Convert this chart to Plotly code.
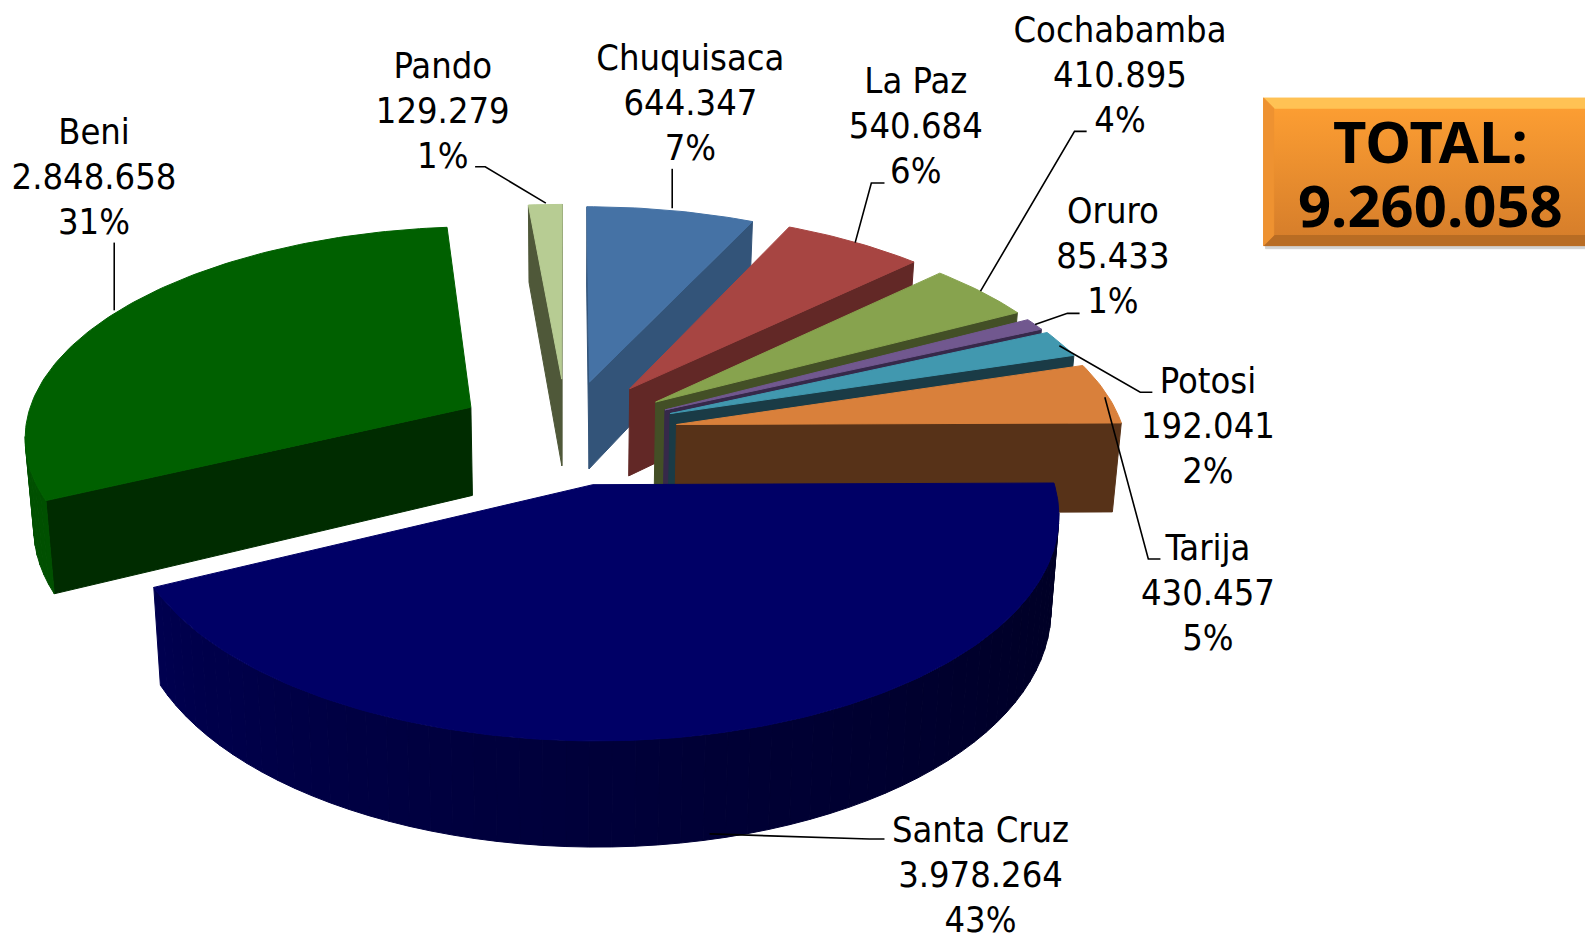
import math
import plotly.graph_objects as go

# ---------- data ----------
departments = ["Chuquisaca", "La Paz", "Cochabamba", "Oruro", "Potosi", "Tarija", "Santa Cruz", "Beni", "Pando"]
population = [644347, 540684, 410895, 85433, 192041, 430457, 3978264, 2848658, 129279]
total_text = ["TOTAL:", "9.260.058"]

# ---------- style ----------
top_colors = ["#4572A5", "#A74542", "#87A34E", "#71588F", "#4198AF", "#D9803B", "#000066", "#006000", "#B7CC93"]
cut_colors = ["#335479", "#622826", "#434F26", "#36294A", "#1A3B46", "#573218", "#00003A", "#002C00", "#4F5839"]
wall_colors = ["#335479", "#622826", "#434F26", "#36294A", "#1A3B46", "#6E4020", "#000050", "#005000", "#4F5839"]
wall_far_colors = [None, None, None, None, None, None, "#000024", None, None]

# explosion of each slice in pie-radius units (x, depth)
explode = [(.054, -.48), (.146, -.446), (.204, -.38), (.224, -.341), (.235, -.323),
           (.248, -.27), (.058, .01), (-.216, -.354), (-.010, -.495)]
paint_order = [8, 7, 0, 1, 2, 3, 4, 5, 6]

label_centres = [(683, 105), (906, 128), (1108, 77), (1101, 256), (1195, 424),
                 (1195, 590), (970, 869), (93, 178), (438, 113)]
leaders = [
    [(665, 167), (665, 206)],
    [(875, 181), (862, 181), (846, 240)],
    [(1075, 130), (1063, 130), (970, 288)],
    [(1068, 310), (1056, 310), (1024, 321)],
    [(1140, 388), (1128, 388), (1048, 342)],
    [(1148, 553), (1136, 553), (1093, 393)],
    [(875, 830), (860, 830), (702, 825)],
    [(113, 240), (113, 307)],
    [(470, 165), (480, 165), (540, 201)],
]

# camera
CX, HORIZON, HEIGHT, FOCAL, DIST, THICK, TILT = 560.0, -1210.0, 3.7, 3500.0, 7.675, 0.2, 0.984


def project(x, v, bottom=False):
    p = FOCAL / (DIST - v)
    if bottom:
        return CX + x * p * TILT, HORIZON + (HEIGHT + THICK) * p
    return CX + x * p, HORIZON + HEIGHT * p


def mix(c1, c2, t):
    a = [int(c1[i:i + 2], 16) for i in (1, 3, 5)]
    b = [int(c2[i:i + 2], 16) for i in (1, 3, 5)]
    return "#%02x%02x%02x" % tuple(round(a[i] + (b[i] - a[i]) * t) for i in range(3))


fig = go.Figure()


def poly(points, color, line=True):
    xs = [q[0] for q in points] + [points[0][0]]
    ys = [q[1] for q in points] + [points[0][1]]
    fig.add_trace(go.Scatter(x=xs, y=ys, mode="lines", fill="toself", fillcolor=color,
                             line=dict(color=color, width=1 if line else 0),
                             hoverinfo="skip", showlegend=False))


total = sum(population)
angles = [0.0]
for value in population:
    angles.append(angles[-1] + 360.0 * value / total)


def rim(i, a):
    r = math.radians(a)
    return explode[i][0] + math.sin(r), explode[i][1] - math.cos(r)


def faces_camera(nx, nv, px, pv):
    return nx * (0 - px) + nv * (DIST - pv) > 0


for i in paint_order:
    a0, a1 = angles[i], angles[i + 1]
    ax, av = explode[i]
    # cut faces
    for a, sign in ((a0, -1), (a1, 1)):
        r = math.radians(a)
        nx, nv = math.cos(r) * sign, math.sin(r) * sign
        ex, ev = rim(i, a)
        if faces_camera(nx, nv, ax, av):
            poly([project(ax, av), project(ex, ev), project(ex, ev, True), project(ax, av, True)], cut_colors[i])
    # outer wall
    n = max(2, int((a1 - a0) / 2.5))
    for k in range(n):
        b0 = a0 + (a1 - a0) * k / n
        b1 = a0 + (a1 - a0) * (k + 1) / n
        mid = math.radians((b0 + b1) / 2)
        px, pv = rim(i, (b0 + b1) / 2)
        if not faces_camera(math.sin(mid), -math.cos(mid), px, pv):
            continue
        col = wall_colors[i]
        if wall_far_colors[i]:
            col = mix(wall_far_colors[i], wall_colors[i], max(0, min(1, k / n)) ** 1.3)
        p0, p1 = rim(i, b0), rim(i, b1)
        poly([project(*p0), project(*p1), project(*p1, True), project(*p0, True)], col)
    # top
    steps = max(4, int(a1 - a0))
    outline = [project(ax, av)] + [project(*rim(i, a0 + (a1 - a0) * k / steps)) for k in range(steps + 1)]
    poly(outline, top_colors[i])

# total box (clipped by the right edge of the page)
BX0, BX1, BY0, BY1, BEV = 1250, 1580, 97, 243, 10
poly([(BX0 + 2, BY0 + 4), (BX1, BY0 + 4), (BX1, BY1 + 3), (BX0 + 2, BY1 + 3)], "#D2D2D2")
fig.add_trace(go.Scatter(x=[BX0, BX1, BX1, BX0, BX0], y=[BY0, BY0, BY1, BY1, BY0], mode="lines",
                         fill="toself", line=dict(width=0, color="#F08A2A"),
                         fillgradient=dict(type="vertical",
                                           colorscale=[[0, "#D47C2A"], [1, "#FFA033"]]),
                         hoverinfo="skip", showlegend=False))
poly([(BX0, BY0), (BX1, BY0), (BX1, BY0 + BEV), (BX0 + BEV, BY0 + BEV)], "#FFC254")
poly([(BX0, BY1), (BX1, BY1), (BX1, BY1 - BEV), (BX0 + BEV, BY1 - BEV)], "#B86C24")
poly([(BX0, BY0), (BX0 + BEV, BY0 + BEV), (BX0 + BEV, BY1 - BEV), (BX0, BY1)], "#EE9231")

# leader lines
for pts in leaders:
    fig.add_trace(go.Scatter(x=[q[0] for q in pts], y=[q[1] for q in pts], mode="lines",
                             line=dict(color="#000000", width=1.6), hoverinfo="skip", showlegend=False))

# labels
LINE = 44.6
lx, ly, lt = [], [], []
for name, value, (cx, cy) in zip(departments, population, label_centres):
    lines = [name, f"{value:,}".replace(",", "."), f"{round(100 * value / total)}%"]
    for j, line in enumerate(lines):
        lx.append(cx)
        ly.append(cy + (j - 1) * LINE)
        lt.append(line)
fig.add_trace(go.Scatter(x=lx, y=ly, text=lt, mode="text", textposition="middle center",
                         textfont=dict(family="DejaVu Sans Condensed, DejaVu Sans", size=36, color="#000000"),
                         hoverinfo="skip", showlegend=False))
fig.add_trace(go.Scatter(x=[1415, 1415], y=[146.5, 210.5], text=total_text, mode="text",
                         textposition="middle center",
                         textfont=dict(family="Noto Sans", size=58, color="#000000", weight="bold"),
                         hoverinfo="skip", showlegend=False))

fig.update_layout(width=1585, height=935, margin=dict(l=0, r=0, t=0, b=0),
                  paper_bgcolor="#FFFFFF", plot_bgcolor="#FFFFFF", showlegend=False,
                  xaxis=dict(range=[0, 1568], visible=False, fixedrange=True),
                  yaxis=dict(range=[925, 0], visible=False, fixedrange=True))
fig.write_html("out.html", config=dict(displayModeBar=False),
               post_script="document.body.style.margin='0';document.documentElement.style.overflow='hidden';")
